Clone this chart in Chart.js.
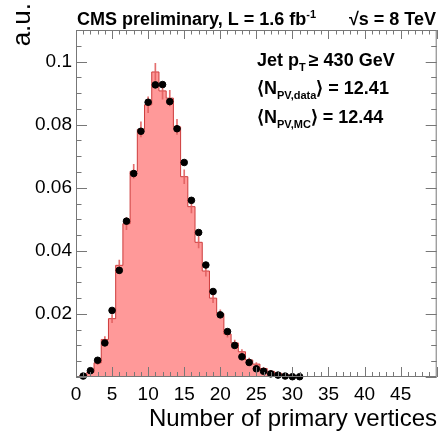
<!DOCTYPE html>
<html lang="en">
<head>
    <meta charset="UTF-8">
    <title>Number of primary vertices</title>
    <script src="https://cdn.jsdelivr.net/npm/chart.js"></script>
    <style>
        body { margin: 0; padding: 0; background: #fff; }
        #wrap { width: 441px; height: 432px; position: relative; }
    </style>
</head>
<body>
    <div id="wrap"><canvas id="myChart" width="441" height="432"></canvas></div>
    <script>
        // bin centres (integer number of vertices)
        const mcBins = [1,2,3,4,5,6,7,8,9,10,11,12,13,14,15,16,17,18,19,20,21,22,23,24,25,26,27,28,29,30,31,32];
        const mcValues = [0.0004,0.0015,0.0045,0.0119,0.0185,0.0354,0.0486,0.0652,0.0785,0.0863,0.0967,0.0907,0.0884,0.0793,0.0635,0.0540,
                          0.0427,0.0336,0.0250,0.0201,0.0136,0.0108,0.0080,0.0054,0.0041,0.0027,0.0018,0.0012,0.0007,0.0004,0.0002,0.0001];
        const mcErrors = [0.0001,0.0003,0.0006,0.0009,0.0013,0.0017,0.0019,0.0022,0.0024,0.0025,0.0027,0.0026,0.0025,0.0024,0.0022,0.0020,
                          0.0018,0.0016,0.0014,0.0012,0.0010,0.0009,0.0007,0.0006,0.0005,0.0004,0.0003,0.0003,0.0002,0.0002,0.0001,0.0001];
        const dataBins = [1,2,3,4,5,6,7,8,9,10,11,12,13,14,15,16,17,18,19,20,21,22,23,24,25,26,27,28,29,30,31];
        const dataValues = [0.0003,0.0020,0.0053,0.0108,0.0211,0.0338,0.0494,0.0645,0.0779,0.0871,0.0926,0.0927,0.0873,0.0787,0.0680,0.0560,
                            0.0458,0.0355,0.0271,0.0197,0.0144,0.0100,0.0064,0.0046,0.0026,0.0018,0.0010,0.0006,0.0003,0.0001,0.0001];
        const xTickValues = [0,5,10,15,20,25,30,35,40,45];
        const xTickLabels = ['0','5','10','15','20','25','30','35','40','45'];
        const yTickValues = [0.02,0.04,0.06,0.08,0.1];
        const yTickLabels = ['0.02','0.04','0.06','0.08','0.1'];

        const FONT = "'Liberation Sans', Arial, Helvetica, sans-serif";
        const AXIS_COLOR = '#777';

        // step outline: each point is the right edge of a bin ('before' holds the previous y)
        const stepPoints = [{x: mcBins[0] - 0.5, y: 0}, {x: mcBins[0] - 0.5, y: mcValues[0]}]
            .concat(mcBins.map((b, i) => ({x: b + 0.5, y: i + 1 < mcValues.length ? mcValues[i + 1] : 0})));

        // draws text pieces with subscripts / superscripts, left to right
        function drawRich(ctx, parts, x, y) {
            parts.forEach(p => {
                ctx.font = p.font;
                ctx.fillText(p.t, x, y + (p.dy || 0));
                x += ctx.measureText(p.t).width + (p.gap || 0);
            });
        }

        const rootFrame = {
            id: 'rootFrame',
            afterDatasetsDraw(chart) {
                const ctx = chart.ctx;
                const a = chart.chartArea;
                const xs = chart.scales.x, ys = chart.scales.y;
                ctx.save();
                ctx.strokeStyle = AXIS_COLOR;
                ctx.lineWidth = 1;
                ctx.strokeRect(a.left + 0.5, a.top + 0.5, a.right - a.left - 1, a.bottom - a.top - 1);
                ctx.beginPath();
                // x ticks, bottom and top
                for (let v = 0; v <= 50; v++) {
                    const px = Math.round(xs.getPixelForValue(v)) + 0.5;
                    const len = v % 5 === 0 ? 10 : 5;
                    ctx.moveTo(px, a.bottom); ctx.lineTo(px, a.bottom - len);
                    ctx.moveTo(px, a.top); ctx.lineTo(px, a.top + len * 0.9);
                }
                // y ticks, left and right
                for (let k = 0; k <= 22; k++) {
                    const v = k * 0.005;
                    const py = Math.round(ys.getPixelForValue(v)) + 0.5;
                    const len = k % 4 === 0 ? 11 : 5.5;
                    ctx.moveTo(a.left, py); ctx.lineTo(a.left + len, py);
                    ctx.moveTo(a.right, py); ctx.lineTo(a.right - len, py);
                }
                ctx.stroke();
                ctx.restore();
            },
            afterDraw(chart) {
                const ctx = chart.ctx;
                ctx.save();
                ctx.fillStyle = '#000';
                ctx.textBaseline = 'alphabetic';
                ctx.textAlign = 'left';
                const B = 'bold 18px ' + FONT, Bs = 'bold 11px ' + FONT;
                drawRich(ctx, [
                    {t: 'CMS preliminary, L = 1.6 fb', font: B},
                    {t: '-1', font: Bs, dy: -7}
                ], 77, 25);
                ctx.textAlign = 'right';
                ctx.font = B;
                ctx.fillText('\u221As = 8 TeV', 436, 25);
                ctx.textAlign = 'left';
                drawRich(ctx, [
                    {t: 'Jet p', font: B},
                    {t: 'T', font: Bs, dy: 5, gap: 3},
                    {t: '\u2265 430 GeV', font: B}
                ], 257, 66);
                drawRich(ctx, [
                    {t: '\u27E8N', font: B},
                    {t: 'PV,data', font: Bs, dy: 5},
                    {t: '\u27E9 = 12.41', font: B}
                ], 257, 94);
                drawRich(ctx, [
                    {t: '\u27E8N', font: B},
                    {t: 'PV,MC', font: Bs, dy: 5},
                    {t: '\u27E9 = 12.44', font: B}
                ], 257, 123);
                // axis titles
                ctx.font = '24px ' + FONT;
                ctx.textAlign = 'right';
                ctx.fillText('Number of primary vertices', 437, 426);
                ctx.font = '26px ' + FONT;
                ctx.translate(30, 3);
                ctx.rotate(-Math.PI / 2);
                ctx.fillText('a.u.', 0, 0);
                ctx.restore();
            }
        };

        const ctx = document.getElementById('myChart').getContext('2d');
        const myChart = new Chart(ctx, {
            type: 'scatter',
            data: {
                datasets: [
                    {
                        label: 'Data',
                        type: 'scatter',
                        data: dataBins.map((b, i) => ({x: b, y: dataValues[i]})),
                        backgroundColor: '#000',
                        borderColor: '#000',
                        pointRadius: 3.3,
                        pointHoverRadius: 3.3,
                        clip: false,
                        order: 0
                    },
                    {
                        label: 'MC stat. error',
                        type: 'bar',
                        data: mcBins.map((b, i) => ({x: b, y: [mcValues[i] - mcErrors[i], mcValues[i] + mcErrors[i]]})),
                        backgroundColor: 'rgba(225, 95, 95, 0.9)',
                        borderWidth: 0,
                        barThickness: 1,
                        grouped: false,
                        order: 1
                    },
                    {
                        label: 'MC',
                        type: 'line',
                        data: stepPoints,
                        stepped: 'before',
                        fill: 'origin',
                        backgroundColor: 'rgb(255, 153, 153)',
                        borderColor: 'rgb(205, 60, 60)',
                        borderWidth: 1,
                        pointRadius: 0,
                        order: 2
                    }
                ]
            },
            options: {
                responsive: false,
                animation: false,
                events: [],
                layout: { padding: { top: 30, right: 4, left: 0, bottom: 0 } },
                plugins: { legend: { display: false }, tooltip: { enabled: false } },
                scales: {
                    x: {
                        type: 'linear',
                        min: 0,
                        max: 50,
                        offset: false,
                        grid: { display: false, drawTicks: false },
                        border: { display: false },
                        afterFit: s => { s.height = 55; },
                        afterBuildTicks: s => { s.ticks = xTickValues.map(v => ({value: v})); },
                        ticks: {
                            autoSkip: false,
                            maxRotation: 0,
                            padding: 6,
                            color: '#000',
                            font: { family: FONT, size: 19 },
                            callback: v => xTickLabels[xTickValues.indexOf(v)]
                        }
                    },
                    y: {
                        type: 'linear',
                        min: 0,
                        max: 0.11,
                        grid: { display: false, drawTicks: false },
                        border: { display: false },
                        afterFit: s => { s.width = 76; },
                        afterBuildTicks: s => { s.ticks = yTickValues.map(v => ({value: v})); },
                        ticks: {
                            autoSkip: false,
                            padding: 4,
                            color: '#000',
                            font: { family: FONT, size: 19 },
                            callback: v => yTickLabels[yTickValues.indexOf(v)]
                        }
                    }
                }
            },
            plugins: [rootFrame]
        });
    </script>
</body>
</html>
